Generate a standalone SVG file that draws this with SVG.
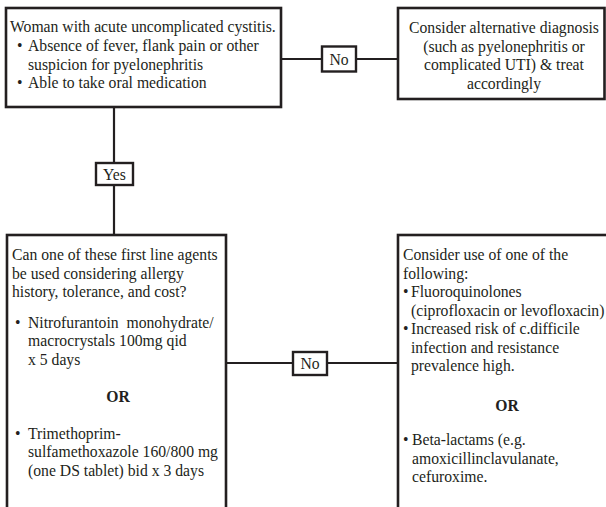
<svg xmlns="http://www.w3.org/2000/svg" width="606" height="507" viewBox="0 0 606 507">
  <style>
    .box { fill: #ffffff; stroke: #231f20; stroke-width: 2.6; }
    .tag { fill: #ffffff; stroke: #231f20; stroke-width: 2.4; }
    .link { fill: none; stroke: #231f20; stroke-width: 2.2; }
    text { font-family: "Liberation Serif", "Times New Roman", serif; font-size: 15.7px; fill: #231f20; }
    .c { text-anchor: middle; }
    .b { font-weight: bold; }
    .pre { white-space: pre; }
  </style>

  <rect x="0" y="0" width="606" height="507" fill="#ffffff"/>

  <!-- connectors -->
  <g id="connectors">
    <line class="link" x1="281" y1="59" x2="398" y2="59"/>
    <line class="link" x1="114" y1="107" x2="114" y2="235"/>
    <line class="link" x1="226" y1="363" x2="398" y2="363"/>
  </g>

  <!-- start node -->
  <g id="node-start">
    <rect class="box" x="6" y="8" width="275" height="99"/>
    <text x="10" y="32">Woman with acute uncomplicated cystitis.</text>
    <text x="17" y="51">•</text>
    <text x="28" y="51">Absence of fever, flank pain or other</text>
    <text x="28" y="69.5">suspicion for pyelonephritis</text>
    <text x="17" y="88">•</text>
    <text x="28" y="88">Able to take oral medication</text>
  </g>

  <!-- alternative diagnosis -->
  <g id="node-alternative">
    <rect class="box" x="398" y="8" width="206.5" height="91"/>
    <text class="c" x="504" y="33">Consider alternative diagnosis</text>
    <text class="c" x="504" y="51.5">(such as pyelonephritis or</text>
    <text class="c" x="504" y="70">complicated UTI) &amp; treat</text>
    <text class="c" x="504" y="88.5">accordingly</text>
  </g>

  <!-- first line agents -->
  <g id="node-first-line">
    <rect class="box" x="7" y="235" width="219" height="300"/>
    <text x="12" y="260">Can one of these first line agents</text>
    <text x="12" y="278.5">be used considering allergy</text>
    <text x="12" y="297">history, tolerance, and cost?</text>
    <text x="15" y="327.5">•</text>
    <text class="pre" x="28" y="327.5" xml:space="preserve">Nitrofurantoin  monohydrate/</text>
    <text x="28" y="346">macrocrystals 100mg qid</text>
    <text x="28" y="364.5">x 5 days</text>
    <text class="c b" x="118" y="402">OR</text>
    <text x="15" y="438.5">•</text>
    <text x="28" y="438.5">Trimethoprim-</text>
    <text x="28" y="457">sulfamethoxazole 160/800 mg</text>
    <text x="28" y="475.5">(one DS tablet) bid x 3 days</text>
  </g>

  <!-- second line agents -->
  <g id="node-second-line">
    <rect class="box" x="398" y="235" width="220" height="300"/>
    <text x="403" y="260">Consider use of one of the</text>
    <text x="403" y="278.5">following:</text>
    <text x="403" y="297">•</text>
    <text x="411" y="297">Fluoroquinolones</text>
    <text x="411" y="315.5">(ciprofloxacin or levofloxacin)</text>
    <text x="403" y="334">•</text>
    <text x="411" y="334">Increased risk of c.difficile</text>
    <text x="411" y="352.5">infection and resistance</text>
    <text x="411" y="371">prevalence high.</text>
    <text class="c b" x="507" y="410.5">OR</text>
    <text x="403" y="445">•</text>
    <text x="412" y="445">Beta-lactams (e.g.</text>
    <text x="412" y="463.5">amoxicillinclavulanate,</text>
    <text x="412" y="482">cefuroxime.</text>
  </g>

  <!-- edge labels -->
  <g id="label-no-top">
    <rect class="tag" x="322" y="46.5" width="34" height="25"/>
    <text class="c" x="339" y="64.5">No</text>
  </g>
  <g id="label-yes">
    <rect class="tag" x="96" y="163" width="37" height="22"/>
    <text class="c" x="114.5" y="179.5">Yes</text>
  </g>
  <g id="label-no-bottom">
    <rect class="tag" x="293" y="352" width="34" height="23"/>
    <text class="c" x="310" y="369">No</text>
  </g>
</svg>
